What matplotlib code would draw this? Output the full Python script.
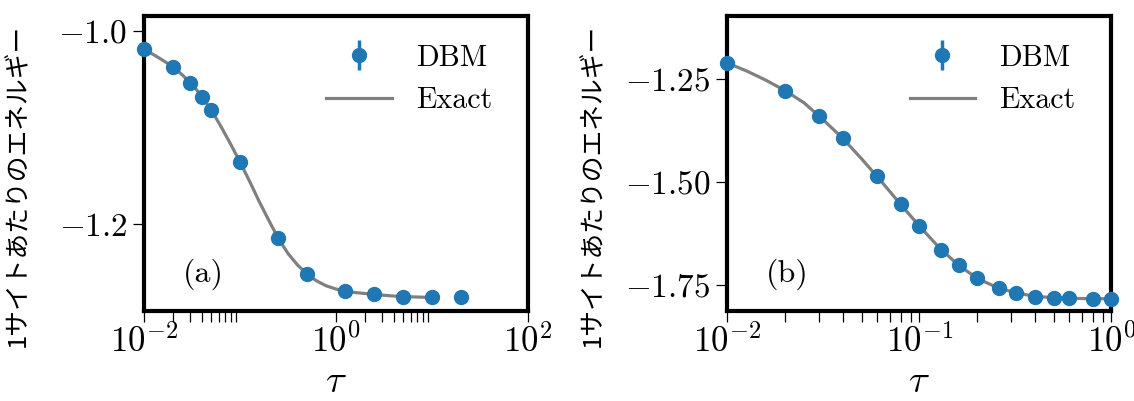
import matplotlib
matplotlib.use("Agg")
import matplotlib.pyplot as plt
import numpy as np

plt.rcParams['font.family'] = 'serif'
plt.rcParams['font.serif'] = ['cmr10']
plt.rcParams['mathtext.fontset'] = 'cm'
plt.rcParams['axes.formatter.use_mathtext'] = True

# (a) DBM
tau_a = [0.01, 0.02, 0.03, 0.04, 0.05, 0.1, 0.25, 0.5, 1.25, 2.5, 5.0, 10.0, 20.0]
e_a = [-1.0190, -1.0372, -1.0534, -1.0683, -1.0820, -1.1355, -1.2145, -1.2517,
       -1.2690, -1.2724, -1.2745, -1.2755, -1.2745]
err_a = [0.001, 0.001, 0.001, 0.001, 0.001, 0.001, 0.001, 0.001, 0.001, 0.001, 0.001, 0.001, 0.001]

# (a) exact
tau_a_ex = [0.01, 0.0126, 0.0158, 0.02, 0.0251, 0.0316, 0.0398, 0.0501, 0.0631, 0.0794,
            0.1, 0.126, 0.158, 0.2, 0.251, 0.316, 0.398, 0.501, 0.631, 0.794,
            1.0, 1.26, 1.58, 2.0, 2.51, 3.16, 3.98, 5.01, 6.31, 7.94, 10.0]
e_a_ex = [-1.0190, -1.0245, -1.0305, -1.0370, -1.0455, -1.0550, -1.0672, -1.0815, -1.0985, -1.1165,
          -1.1355, -1.1555, -1.1760, -1.1960, -1.2145, -1.2300, -1.2420, -1.2515, -1.2585, -1.2635,
          -1.2668, -1.2690, -1.2704, -1.2714, -1.2724, -1.2732, -1.2740, -1.2745, -1.2749, -1.2752, -1.2755]

# (b) DBM
tau_b = [0.01, 0.02, 0.03, 0.04, 0.06, 0.08, 0.1, 0.13, 0.16, 0.2, 0.26, 0.32, 0.4, 0.5, 0.6, 0.8, 1.0]
e_b = [-1.2106, -1.2780, -1.3396, -1.3940, -1.4855, -1.5546, -1.6072, -1.6649, -1.7020,
       -1.7346, -1.7580, -1.7700, -1.7790, -1.7816, -1.7833, -1.7840, -1.7840]
err_b = [0.001, 0.001, 0.001, 0.001, 0.001, 0.001, 0.001, 0.001, 0.001,
         0.001, 0.001, 0.001, 0.001, 0.001, 0.001, 0.001, 0.001]

# (b) exact
tau_b_ex = [0.01, 0.0126, 0.0158, 0.02, 0.0251, 0.0316, 0.0398, 0.0501, 0.0631, 0.0794,
            0.1, 0.126, 0.158, 0.2, 0.251, 0.316, 0.398, 0.501, 0.631, 0.794, 1.0]
e_b_ex = [-1.2106, -1.2300, -1.2520, -1.2778, -1.3075, -1.3490, -1.3932, -1.4440, -1.4975, -1.5530,
          -1.6072, -1.6580, -1.7005, -1.7343, -1.7555, -1.7695, -1.7778, -1.7815, -1.7832, -1.7838, -1.7840]

ylabel = '1サイトあたりのエネルギー'

fig = plt.figure(figsize=(11.34, 4.01), dpi=100)
ax1 = fig.add_axes([0.127, 0.2232, 0.3386, 0.7357])
ax2 = fig.add_axes([0.6414, 0.2232, 0.3386, 0.7357])

panels = [
    (ax1, tau_a, e_a, err_a, tau_a_ex, e_a_ex, (1e-2, 1e2), (-1.29, -0.985), [-1.2, -1.0], '(a)'),
    (ax2, tau_b, e_b, err_b, tau_b_ex, e_b_ex, (1e-2, 1e0), (-1.815, -1.0975), [-1.75, -1.5, -1.25], '(b)'),
]

for ax, t, e, err, tex, eex, xl, yl, yt, lab in panels:
    h1 = ax.errorbar(t, e, yerr=err, fmt='o', color='#1f77b4', ms=10, elinewidth=2.5,
                     label='DBM', zorder=3, clip_on=False)
    h2, = ax.plot(tex, eex, color='gray', lw=2.3, label='Exact', zorder=2)
    ax.set_xscale('log')
    ax.set_xlim(*xl)
    ax.set_ylim(*yl)
    ax.set_yticks(yt)
    for s in ax.spines.values():
        s.set_linewidth(3)
    ax.tick_params(axis='y', which='major', direction='out', length=8, width=0.9, labelsize=24, pad=4)
    ax.tick_params(axis='x', which='both', direction='out', length=8, width=0.9, labelsize=25, pad=1)
    ax.set_xlabel(r'$\tau$', fontsize=28)
    ax.xaxis.set_label_coords(0.5, -0.18)
    ax.set_ylabel(ylabel, fontsize=18.5, family=['Noto Sans CJK JP', 'DejaVu Sans'])
    ax.text(0.155, 0.125, lab, transform=ax.transAxes, fontsize=23, ha='center', va='center')
    ax.legend([h1, h2], ['DBM', 'Exact'], loc='upper right', bbox_to_anchor=(0.984, 1.007),
              frameon=False, fontsize=21.5, handlelength=2.2, handletextpad=0.8,
              labelspacing=0.5, borderaxespad=0.6)

ax1.set_xticks([1e-2, 1e0, 1e2])
ax1.set_xticks([2e-2, 3e-2, 4e-2, 5e-2, 6e-2, 7e-2, 8e-2, 9e-2,
                2, 3, 4, 5, 6, 7, 8, 9], minor=True)
ax1.yaxis.set_label_coords(-0.295, 0.429)
ax2.yaxis.set_label_coords(-0.315, 0.429)

fig.savefig('out.png', dpi=100)
